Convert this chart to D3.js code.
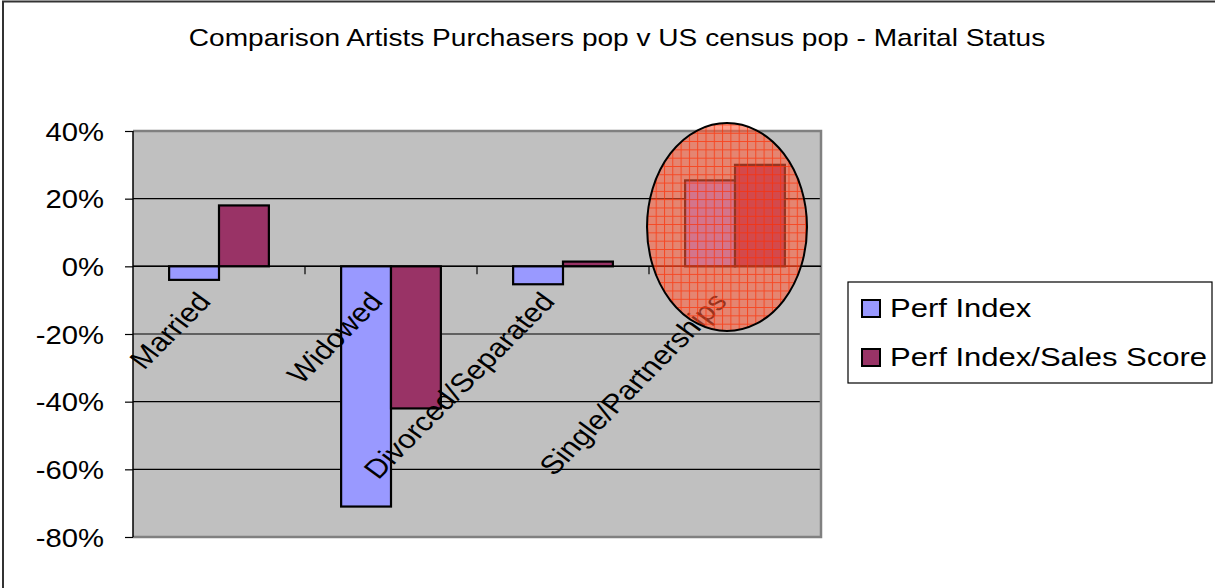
<!DOCTYPE html>
<html>
<head>
<meta charset="utf-8">
<script src="https://cdn.jsdelivr.net/npm/d3@7"></script>
<style>
  html, body { margin: 0; padding: 0; background: #fff; }
  svg { display: block; font-family: "Liberation Sans", Arial, sans-serif; }
</style>
</head>
<body>
<svg id="chart" width="1215" height="588"></svg>
<script>
// Marital status comparison data
const categories = ["Married", "Widowed", "Divorced/Separated", "Single/Partnerships"];
const seriesNames = ["Perf Index", "Perf Index/Sales Score"];
const perfIndex = [-0.04, -0.71, -0.053, 0.254];
const perfSalesScore = [0.18, -0.42, 0.014, 0.30];
const yTicks = [0.4, 0.2, 0, -0.2, -0.4, -0.6, -0.8];
const seriesColors = ["#9999FF", "#993366"];

const svg = d3.select("#chart");
const W = 1215, H = 588;
const SX = 1.17; // horizontal widening applied to all text

// outer chart frame
svg.append("rect").attr("x", 3).attr("y", 1.5).attr("width", W + 10).attr("height", H + 10)
  .attr("fill", "#fff").attr("stroke", "#333").attr("stroke-width", 2);

const plot = { left: 133, right: 821, top: 131, bottom: 537 };

const y = d3.scaleLinear().domain([-0.8, 0.4]).range([plot.bottom, plot.top]);
const x0 = d3.scaleBand().domain(categories).range([plot.left, plot.right]).paddingInner(0.42).paddingOuter(0.21);
const x1 = d3.scaleBand().domain(seriesNames).range([0, x0.bandwidth()]);

// plot background
svg.append("rect").attr("x", plot.left).attr("y", plot.top)
  .attr("width", plot.right - plot.left).attr("height", plot.bottom - plot.top)
  .attr("fill", "#C0C0C0");

// horizontal gridlines
svg.append("g").selectAll("line").data(yTicks.filter(d => d !== 0.4 && d !== -0.8)).join("line")
  .attr("x1", plot.left).attr("x2", plot.right)
  .attr("y1", d => y(d)).attr("y2", d => y(d))
  .attr("stroke", "#000").attr("stroke-width", 1.2);

// plot border (top, right, bottom)
svg.append("path")
  .attr("d", `M${plot.left},${plot.top}H${plot.right}V${plot.bottom}H${plot.left}`)
  .attr("fill", "none").attr("stroke", "#808080").attr("stroke-width", 2.5);

// bars
const rows = categories.map((c, i) => ({ cat: c, vals: [perfIndex[i], perfSalesScore[i]] }));
const gBars = svg.append("g");
rows.forEach(r => {
  r.vals.forEach((v, j) => {
    gBars.append("rect")
      .attr("x", x0(r.cat) + x1(seriesNames[j]))
      .attr("y", Math.min(y(v), y(0)))
      .attr("width", x1.bandwidth())
      .attr("height", Math.abs(y(v) - y(0)))
      .attr("fill", seriesColors[j])
      .attr("stroke", "#000").attr("stroke-width", 2.2);
  });
});

// y axis
const yAxis = d3.axisLeft(y).tickValues(yTicks).tickFormat(d => Math.round(d * 100) + "%").tickSize(8);
const gy = svg.append("g").attr("transform", `translate(${plot.left},0)`).call(yAxis);
gy.select(".domain").attr("stroke", "#000").attr("stroke-width", 1.5).attr("d", `M0,${plot.top}V${plot.bottom}`);
gy.selectAll(".tick line").attr("stroke", "#000").attr("stroke-width", 1.2);
gy.selectAll(".tick text")
  .attr("x", 0).attr("dy", "0.36em")
  .attr("transform", `translate(-29,0) scale(${SX},1)`)
  .attr("font-size", 25).attr("fill", "#000")
  .attr("font-family", "'Liberation Sans', Arial, sans-serif");

// category axis along zero line
const step = (plot.right - plot.left) / categories.length;
svg.append("line").attr("x1", plot.left).attr("x2", plot.right)
  .attr("y1", y(0)).attr("y2", y(0)).attr("stroke", "#000").attr("stroke-width", 1.5);
svg.append("g").selectAll("line").data(d3.range(1, categories.length)).join("line")
  .attr("x1", i => plot.left + i * step).attr("x2", i => plot.left + i * step)
  .attr("y1", y(0)).attr("y2", y(0) + 8)
  .attr("stroke", "#000").attr("stroke-width", 1.2);

// highlight ellipse over the last category: translucent salmon with a red grid
const defs = svg.append("defs");
const pat = defs.append("pattern").attr("id", "hatch").attr("patternUnits", "userSpaceOnUse")
  .attr("width", 8.3).attr("height", 8.3);
pat.append("rect").attr("width", 8.3).attr("height", 8.3).attr("fill", "rgba(255,90,55,0.58)");
pat.append("path").attr("d", "M0,0.5H8.3M0.5,0V8.3").attr("stroke", "rgba(255,45,0,0.7)").attr("stroke-width", 1);

// category labels, rotated
svg.append("g").selectAll("text").data(categories).join("text")
  .attr("transform", d => `translate(${x0(d) + x0.bandwidth() / 2 - 15},${y(0) + 30}) scale(${SX},1) rotate(-49.5)`)
  .attr("text-anchor", "end")
  .attr("dy", "0.35em")
  .attr("font-size", 26.5).attr("fill", "#000")
  .text(d => d);

const lastCat = categories[categories.length - 1];
const ecx = x0(lastCat) + x0.bandwidth() / 2;
svg.append("ellipse")
  .attr("cx", ecx - 8).attr("cy", 227).attr("rx", 80).attr("ry", 104)
  .attr("fill", "url(#hatch)").attr("stroke", "#000").attr("stroke-width", 2);

// title
svg.append("text").attr("transform", `translate(617,46) scale(${SX},1)`).attr("text-anchor", "middle")
  .attr("font-size", 24).attr("fill", "#000")
  .text("Comparison Artists Purchasers pop v US census pop - Marital Status");

// legend
const lg = svg.append("g");
lg.append("rect").attr("x", 848).attr("y", 282).attr("width", 364).attr("height", 101)
  .attr("fill", "#fff").attr("stroke", "#000").attr("stroke-width", 1.2);
seriesNames.forEach((s, i) => {
  lg.append("rect").attr("x", 862).attr("y", 300 + i * 49).attr("width", 18).attr("height", 17)
    .attr("fill", seriesColors[i]).attr("stroke", "#000").attr("stroke-width", 2);
  lg.append("text").attr("transform", `translate(890,${317 + i * 49}) scale(${SX * 1.04},1)`)
    .attr("font-size", 25.5).attr("fill", "#000").text(s);
});
</script>
</body>
</html>
